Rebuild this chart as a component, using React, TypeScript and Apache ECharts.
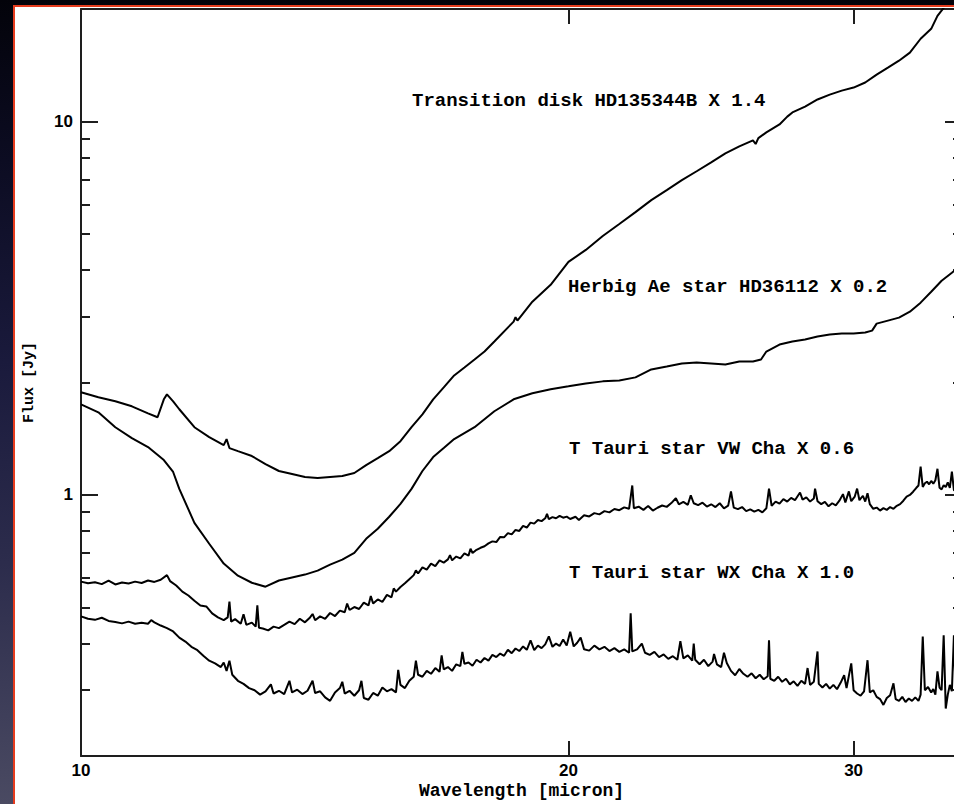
import React, { useEffect, useRef } from "react";
import * as echarts from "echarts";

// ---- axes ----
const X_MIN = 10;
const X_MAX = 35;
const Y_MIN = 0.2;
const Y_MAX = 20;
const xTickValues = [10, 20, 30];
const yMajorTicks = [1, 10];
const yMinorTicks = [0.3, 0.4, 0.5, 0.6, 0.7, 0.8, 0.9, 2, 3, 4, 5, 6, 7, 8, 9];

// ---- labels ----
const seriesLabels = [
  "Transition disk HD135344B X 1.4",
  "Herbig Ae star HD36112 X 0.2",
  "T Tauri star VW Cha X 0.6",
  "T Tauri star WX Cha X 1.0",
];

// ---- Transition disk HD135344B (x1.4): [wavelength micron, flux Jy] ----
const transitionDisk: [number, number][] = [
  [10, 1.883], [10.25, 1.826], [10.5, 1.781], [10.75, 1.727], [11, 1.654], [11.15, 1.614], [11.25, 1.803],
  [11.3, 1.859], [11.4, 1.781], [11.5, 1.696], [11.75, 1.518], [12, 1.428], [12.25, 1.359], [12.3, 1.411],
  [12.35, 1.335], [12.5, 1.31], [12.75, 1.271], [13, 1.21], [13.25, 1.159], [13.5, 1.138], [13.75, 1.117],
  [14, 1.11], [14.25, 1.117], [14.5, 1.124], [14.75, 1.145], [15, 1.202], [15.25, 1.255], [15.5, 1.31],
  [15.75, 1.393], [16, 1.518], [16.25, 1.644], [16.5, 1.803], [16.75, 1.941], [17, 2.089], [17.25, 2.194],
  [17.5, 2.305], [17.75, 2.421], [18, 2.575], [18.5, 2.911], [18.55, 2.99], [18.6, 2.93], [19, 3.292],
  [19.5, 3.653], [20, 4.207], [20.5, 4.529], [21, 4.935], [21.5, 5.313], [22, 5.718], [22.5, 6.156],
  [23, 6.546], [23.5, 6.961], [24, 7.356], [24.5, 7.774], [25, 8.215], [25.5, 8.577], [26, 8.9],
  [26.1, 8.7], [26.2, 9.02], [26.5, 9.347], [27, 9.817], [27.3, 10.3], [27.5, 10.57], [28, 10.96],
  [28.5, 11.45], [29, 11.8], [29.5, 12.09], [30, 12.32], [30.5, 12.71], [31, 13.35], [31.5, 13.93],
  [32, 14.54], [32.5, 15.28], [33, 16.65], [33.5, 17.7], [33.8, 19.17], [34.1, 20.14], [34.3, 20.77],
];

// ---- Herbig Ae star HD36112 (x0.2) ----
const herbigAe: [number, number][] = [
  [10, 1.748], [10.25, 1.664], [10.5, 1.518], [10.75, 1.419], [11, 1.343], [11.25, 1.24], [11.4, 1.152],
  [11.5, 1.038], [11.75, 0.842], [12, 0.74], [12.25, 0.655], [12.5, 0.608], [12.75, 0.582], [13, 0.568],
  [13.25, 0.59], [13.5, 0.601], [13.75, 0.612], [14, 0.627], [14.25, 0.651], [14.5, 0.671], [14.75, 0.7],
  [15, 0.763], [15.25, 0.812], [15.5, 0.874], [15.75, 0.946], [16, 1.038], [16.25, 1.159], [16.5, 1.263],
  [16.75, 1.335], [17, 1.411], [17.5, 1.518], [18, 1.675], [18.5, 1.803], [19, 1.871], [19.5, 1.918],
  [20, 1.953], [20.5, 1.989], [21, 2.014], [21.5, 2.026], [22, 2.064], [22.5, 2.168], [23, 2.208],
  [23.5, 2.249], [24, 2.263], [24.5, 2.249], [25, 2.235], [25.5, 2.277], [26, 2.277], [26.3, 2.305],
  [26.5, 2.421], [27, 2.527], [27.5, 2.575], [28, 2.606], [28.5, 2.655], [29, 2.688], [29.5, 2.704],
  [30, 2.704], [30.5, 2.721], [30.8, 2.754], [31, 2.875], [31.5, 2.929], [32, 2.983], [32.5, 3.095],
  [33, 3.272], [33.5, 3.499], [34, 3.744], [34.5, 3.933], [34.8, 4.055],
];

// ---- T Tauri star VW Cha (x0.6) ----
const vwCha: [number, number][] = [
  [10.0, 0.586], [10.1, 0.58], [10.2, 0.584], [10.3, 0.577], [10.4, 0.59], [10.5, 0.576], [10.6, 0.583],
  [10.7, 0.579], [10.8, 0.586], [10.9, 0.581], [11.0, 0.59], [11.1, 0.585], [11.2, 0.593], [11.3, 0.61],
  [11.35, 0.588], [11.45, 0.572], [11.55, 0.551], [11.65, 0.538], [11.75, 0.521], [11.85, 0.506],
  [11.95, 0.503], [12.05, 0.482], [12.15, 0.47], [12.25, 0.462], [12.32, 0.47], [12.35, 0.518],
  [12.38, 0.458], [12.45, 0.465], [12.55, 0.452], [12.6, 0.479], [12.65, 0.449], [12.75, 0.455],
  [12.82, 0.444], [12.85, 0.506], [12.88, 0.441], [12.95, 0.439], [13.05, 0.434], [13.15, 0.444],
  [13.25, 0.44], [13.35, 0.449], [13.45, 0.458], [13.55, 0.451], [13.65, 0.466], [13.75, 0.456],
  [13.85, 0.47], [13.9, 0.48], [13.95, 0.462], [14.05, 0.473], [14.15, 0.466], [14.25, 0.483],
  [14.35, 0.474], [14.45, 0.49], [14.55, 0.485], [14.6, 0.512], [14.65, 0.492], [14.75, 0.501],
  [14.85, 0.495], [14.95, 0.515], [15.05, 0.506], [15.1, 0.536], [15.15, 0.512], [15.25, 0.525],
  [15.35, 0.517], [15.45, 0.54], [15.55, 0.532], [15.6, 0.562], [15.65, 0.551], [15.75, 0.567],
  [15.85, 0.58], [15.95, 0.595], [16.05, 0.61], [16.1, 0.628], [16.15, 0.616], [16.25, 0.64],
  [16.35, 0.631], [16.45, 0.655], [16.55, 0.645], [16.65, 0.668], [16.75, 0.659], [16.85, 0.672],
  [16.9, 0.69], [16.95, 0.668], [17.05, 0.684], [17.15, 0.676], [17.25, 0.697], [17.35, 0.688],
  [17.4, 0.718], [17.45, 0.699], [17.55, 0.713], [17.65, 0.722], [17.75, 0.729], [17.85, 0.742],
  [17.95, 0.751], [18.05, 0.748], [18.15, 0.772], [18.25, 0.77], [18.35, 0.79], [18.45, 0.784],
  [18.55, 0.806], [18.65, 0.801], [18.75, 0.826], [18.85, 0.818], [18.95, 0.843], [19.05, 0.838],
  [19.15, 0.857], [19.25, 0.851], [19.35, 0.866], [19.4, 0.89], [19.45, 0.861], [19.55, 0.872],
  [19.65, 0.866], [19.75, 0.879], [19.85, 0.869], [19.95, 0.875], [20.05, 0.862], [20.2, 0.874],
  [20.3, 0.857], [20.45, 0.882], [20.6, 0.876], [20.75, 0.894], [20.9, 0.887], [21.05, 0.905],
  [21.2, 0.898], [21.35, 0.917], [21.5, 0.91], [21.65, 0.926], [21.8, 0.918], [21.9, 1.06],
  [21.95, 0.921], [22.1, 0.93], [22.25, 0.912], [22.4, 0.934], [22.55, 0.908], [22.7, 0.924],
  [22.85, 0.937], [23.0, 0.929], [23.15, 0.951], [23.3, 0.98], [23.4, 0.944], [23.55, 0.958],
  [23.7, 0.941], [23.8, 0.998], [23.9, 0.95], [24.05, 0.939], [24.2, 0.953], [24.35, 0.931],
  [24.5, 0.944], [24.65, 0.928], [24.8, 0.95], [24.95, 0.921], [25.1, 0.936], [25.2, 1.022],
  [25.3, 0.925], [25.45, 0.916], [25.6, 0.928], [25.75, 0.905], [25.9, 0.915], [26.05, 0.902],
  [26.2, 0.912], [26.35, 0.898], [26.5, 0.921], [26.6, 1.04], [26.7, 0.935], [26.85, 0.96],
  [27.0, 0.948], [27.15, 0.975], [27.3, 0.96], [27.45, 0.982], [27.6, 0.968], [27.8, 1.015],
  [27.9, 0.972], [28.05, 0.985], [28.2, 0.96], [28.35, 0.978], [28.4, 1.04], [28.5, 0.962],
  [28.65, 0.945], [28.8, 0.958], [28.95, 0.932], [29.1, 0.95], [29.25, 0.938], [29.4, 0.965],
  [29.55, 1.005], [29.65, 0.955], [29.8, 1.022], [29.9, 0.962], [30.05, 0.99], [30.15, 1.04],
  [30.25, 0.968], [30.4, 0.995], [30.5, 0.96], [30.6, 1.01], [30.7, 0.945], [30.85, 0.918],
  [31.0, 0.925], [31.15, 0.908], [31.3, 0.922], [31.45, 0.912], [31.6, 0.928], [31.75, 0.918],
  [31.9, 0.935], [32.05, 0.945], [32.2, 0.965], [32.35, 0.99], [32.5, 1.0], [32.65, 1.02],
  [32.8, 1.045], [32.9, 1.06], [33.0, 1.19], [33.1, 1.05], [33.2, 1.075], [33.3, 1.085],
  [33.4, 1.068], [33.5, 1.09], [33.6, 1.072], [33.7, 1.095], [33.8, 1.175], [33.9, 1.045],
  [34.0, 1.035], [34.1, 1.062], [34.2, 1.05], [34.3, 1.08], [34.4, 1.045], [34.5, 1.155],
  [34.6, 1.03], [34.7, 1.022], [34.8, 1.055], [34.9, 1.04],
];

// ---- T Tauri star WX Cha (x1.0) ----
const wxCha: [number, number][] = [
  [10.0, 0.473], [10.1, 0.466], [10.2, 0.463], [10.3, 0.469], [10.4, 0.46], [10.5, 0.457], [10.6, 0.453],
  [10.7, 0.458], [10.8, 0.452], [10.9, 0.455], [11.0, 0.452], [11.05, 0.462], [11.1, 0.456], [11.2, 0.447],
  [11.3, 0.44], [11.4, 0.431], [11.5, 0.415], [11.6, 0.405], [11.7, 0.392], [11.8, 0.384], [11.9, 0.371],
  [12.0, 0.36], [12.1, 0.354], [12.2, 0.346], [12.25, 0.356], [12.3, 0.338], [12.35, 0.36], [12.4, 0.33],
  [12.5, 0.318], [12.6, 0.312], [12.7, 0.304], [12.8, 0.3], [12.9, 0.292], [13.0, 0.298], [13.1, 0.311],
  [13.15, 0.294], [13.25, 0.299], [13.35, 0.293], [13.45, 0.318], [13.5, 0.296], [13.6, 0.301],
  [13.7, 0.293], [13.8, 0.299], [13.9, 0.318], [13.95, 0.295], [14.05, 0.298], [14.15, 0.287],
  [14.25, 0.281], [14.35, 0.296], [14.45, 0.304], [14.5, 0.316], [14.55, 0.294], [14.65, 0.299],
  [14.75, 0.29], [14.85, 0.3], [14.9, 0.318], [14.95, 0.286], [15.05, 0.283], [15.15, 0.295],
  [15.25, 0.29], [15.35, 0.305], [15.45, 0.298], [15.55, 0.302], [15.65, 0.296], [15.7, 0.34],
  [15.75, 0.31], [15.85, 0.304], [15.95, 0.318], [16.05, 0.326], [16.1, 0.36], [16.15, 0.33],
  [16.25, 0.326], [16.35, 0.338], [16.45, 0.332], [16.55, 0.344], [16.65, 0.336], [16.7, 0.372],
  [16.75, 0.341], [16.85, 0.346], [16.95, 0.338], [17.05, 0.352], [17.15, 0.348], [17.2, 0.38],
  [17.25, 0.353], [17.35, 0.356], [17.45, 0.349], [17.55, 0.362], [17.65, 0.356], [17.75, 0.366],
  [17.85, 0.36], [17.95, 0.373], [18.05, 0.368], [18.15, 0.376], [18.25, 0.371], [18.35, 0.385],
  [18.45, 0.377], [18.55, 0.388], [18.65, 0.382], [18.75, 0.393], [18.85, 0.385], [18.95, 0.408],
  [19.05, 0.384], [19.15, 0.395], [19.25, 0.389], [19.35, 0.398], [19.45, 0.418], [19.55, 0.392],
  [19.65, 0.4], [19.75, 0.394], [19.85, 0.41], [19.95, 0.395], [20.05, 0.43], [20.15, 0.393],
  [20.25, 0.402], [20.35, 0.415], [20.45, 0.386], [20.6, 0.383], [20.75, 0.395], [20.9, 0.386],
  [21.05, 0.392], [21.2, 0.382], [21.35, 0.389], [21.5, 0.38], [21.65, 0.386], [21.8, 0.378],
  [21.85, 0.482], [21.9, 0.381], [22.05, 0.386], [22.2, 0.4], [22.3, 0.378], [22.45, 0.373],
  [22.6, 0.38], [22.75, 0.368], [22.9, 0.374], [23.05, 0.364], [23.2, 0.37], [23.35, 0.362],
  [23.45, 0.406], [23.55, 0.365], [23.7, 0.372], [23.85, 0.36], [23.9, 0.4], [23.95, 0.362],
  [24.1, 0.352], [24.25, 0.362], [24.4, 0.348], [24.55, 0.358], [24.6, 0.375], [24.7, 0.352],
  [24.85, 0.346], [24.95, 0.378], [25.05, 0.355], [25.2, 0.338], [25.35, 0.329], [25.5, 0.342],
  [25.65, 0.332], [25.8, 0.326], [25.95, 0.333], [26.1, 0.323], [26.25, 0.33], [26.4, 0.321],
  [26.55, 0.327], [26.6, 0.408], [26.65, 0.322], [26.8, 0.318], [26.95, 0.326], [27.1, 0.316],
  [27.25, 0.322], [27.4, 0.311], [27.55, 0.317], [27.7, 0.308], [27.85, 0.318], [28.0, 0.312],
  [28.1, 0.344], [28.2, 0.31], [28.35, 0.316], [28.5, 0.381], [28.55, 0.312], [28.7, 0.305],
  [28.85, 0.312], [29.0, 0.303], [29.15, 0.31], [29.3, 0.302], [29.45, 0.314], [29.6, 0.329],
  [29.7, 0.304], [29.9, 0.354], [30.0, 0.3], [30.15, 0.294], [30.3, 0.29], [30.45, 0.298],
  [30.6, 0.361], [30.7, 0.296], [30.85, 0.3], [31.0, 0.288], [31.15, 0.284], [31.3, 0.274],
  [31.45, 0.286], [31.6, 0.291], [31.75, 0.313], [31.85, 0.284], [32.0, 0.281], [32.15, 0.288],
  [32.3, 0.279], [32.45, 0.285], [32.6, 0.281], [32.75, 0.287], [32.9, 0.281], [33.0, 0.292],
  [33.1, 0.418], [33.2, 0.3], [33.35, 0.306], [33.5, 0.296], [33.6, 0.302], [33.7, 0.292],
  [33.8, 0.337], [33.9, 0.305], [34.0, 0.3], [34.1, 0.421], [34.2, 0.268], [34.3, 0.292],
  [34.4, 0.31], [34.5, 0.298], [34.6, 0.421], [34.7, 0.276], [34.8, 0.3], [34.9, 0.292],
];

const MONO = '"Liberation Mono", "Courier New", monospace';
const SANS = '"Liberation Sans", Arial, sans-serif';
const AXIS_COLOR = "#1e1e1e";

export default function App() {
  const ref = useRef<HTMLDivElement>(null);

  useEffect(() => {
    if (!ref.current) return;
    const chart = echarts.init(ref.current, null, { renderer: "svg" });

    const axisLine = { show: true, lineStyle: { color: AXIS_COLOR, width: 2 } };
    const noSplit = { show: false };
    const tick = (values: number[], length: number) => ({
      show: true,
      inside: true,
      length,
      customValues: values,
      lineStyle: { color: AXIS_COLOR, width: 2 },
    });
    const hiddenLabel = { show: false };

    const line = (name: string, points: [number, number][]) => ({
      name,
      type: "line",
      xAxisIndex: 0,
      yAxisIndex: 0,
      showSymbol: false,
      symbol: "none",
      clip: true,
      silent: true,
      lineStyle: { color: "#000", width: 2 },
      data: points,
    });

    const xBase = { type: "log", logBase: 10, min: X_MIN, max: X_MAX, splitLine: noSplit, minorTick: { show: false } };
    const yBase = { type: "log", logBase: 10, min: Y_MIN, max: Y_MAX, splitLine: noSplit, minorTick: { show: false } };

    const labelFont = "bold 19px " + MONO;
    const annotation = (text: string, x: number, y: number) => ({
      type: "text",
      x,
      y,
      silent: true,
      style: { text, fill: "#000", font: labelFont, align: "left", verticalAlign: "middle" },
    });

    chart.setOption({
      animation: false,
      backgroundColor: "transparent",
      grid: { left: 81, top: 9, right: -8, bottom: 48, containLabel: false, outerBoundsMode: "none" },
      xAxis: [
        {
          ...xBase,
          position: "bottom",
          axisLine,
          axisTick: tick(xTickValues, 15),
          axisLabel: {
            show: true,
            customValues: xTickValues,
            margin: 6,
            color: "#000",
            fontFamily: SANS,
            fontWeight: "bold",
            fontSize: 17,
            lineHeight: 17,
            formatter: (v: number) => String(Math.round(v)),
          },
          name: "Wavelength [micron]",
          nameLocation: "middle",
          nameGap: 26,
          nameMoveOverlap: false,
          nameTextStyle: { color: "#000", fontFamily: MONO, fontWeight: "bold", fontSize: 18, lineHeight: 18 },
        },
        {
          ...xBase,
          position: "top",
          axisLine,
          axisTick: tick(xTickValues, 15),
          axisLabel: hiddenLabel,
        },
      ],
      yAxis: [
        {
          ...yBase,
          position: "left",
          axisLine,
          axisTick: tick(yMajorTicks, 17),
          axisLabel: {
            show: true,
            customValues: yMajorTicks,
            margin: 8,
            color: "#000",
            fontFamily: SANS,
            fontWeight: "bold",
            fontSize: 17,
            formatter: (v: number) => String(Math.round(v)),
          },
          name: "Flux [Jy]",
          nameLocation: "middle",
          nameRotate: 90,
          nameGap: 44,
          nameMoveOverlap: false,
          nameTextStyle: { color: "#000", fontFamily: MONO, fontWeight: "bold", fontSize: 15 },
        },
        {
          ...yBase,
          position: "left",
          axisLine: { show: false },
          axisTick: tick(yMinorTicks, 9),
          axisLabel: hiddenLabel,
        },
        {
          ...yBase,
          position: "right",
          axisLine,
          axisTick: tick(yMajorTicks, 17),
          axisLabel: hiddenLabel,
        },
        {
          ...yBase,
          position: "right",
          axisLine: { show: false },
          axisTick: tick(yMinorTicks, 9),
          axisLabel: hiddenLabel,
        },
      ],
      series: [
        line(seriesLabels[0], transitionDisk),
        line(seriesLabels[1], herbigAe),
        line(seriesLabels[2], vwCha),
        line(seriesLabels[3], wxCha),
      ],
      graphic: [
        annotation(seriesLabels[0], 412, 101),
        annotation(seriesLabels[1], 568, 287),
        annotation(seriesLabels[2], 569, 449),
        annotation(seriesLabels[3], 569, 573),
      ],
    });

    return () => chart.dispose();
  }, []);

  return (
    <div
      style={{
        position: "fixed",
        left: 0,
        top: 0,
        width: 954,
        height: 804,
        overflow: "hidden",
        background: "linear-gradient(180deg, #03030a 0%, #0c0c22 20%, #1a1a3c 45%, #2c2c4c 70%, #4a4a62 100%)",
      }}
    >
      <div
        style={{
          position: "absolute",
          left: 13,
          top: 5,
          right: 0,
          bottom: 0,
          background: "#fff",
          borderLeft: "2px solid #e63c1e",
          borderTop: "2px solid #e63c1e",
        }}
      />
      <div ref={ref} style={{ position: "absolute", left: 0, top: 0, width: 954, height: 804 }} />
    </div>
  );
}
